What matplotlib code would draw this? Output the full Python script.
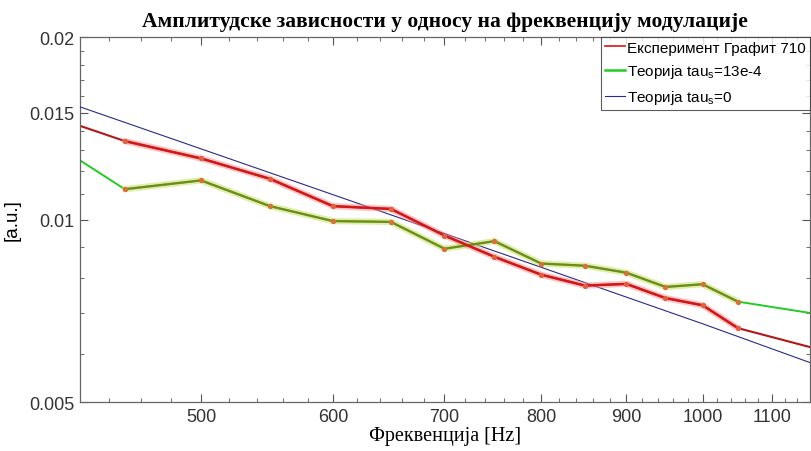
import matplotlib
matplotlib.use("Agg")
import matplotlib.pyplot as plt
from matplotlib.ticker import FixedLocator, NullFormatter
from matplotlib.lines import Line2D

# Frequencies (Hz)
freq = [400, 450, 500, 550, 600, 650, 700, 750, 800, 850, 900, 950, 1000, 1050, 1200]
# Experiment: Graphite 710
exp_vals = [0.01504, 0.01347, 0.01261, 0.01167, 0.01052, 0.01041, 0.00941, 0.00868,
            0.00811, 0.00778, 0.00783, 0.00742, 0.00722, 0.00662, 0.00601]
# Theory tau_s = 13e-4
th13_vals = [0.01382, 0.01122, 0.01160, 0.01052, 0.00994, 0.00991, 0.00895, 0.00921,
             0.00846, 0.00839, 0.00817, 0.00774, 0.00782, 0.00732, 0.00691]
# Theory tau_s = 0 (straight line in log-log)
freq0 = [400, 600, 800, 1000, 1200]
th0_vals = [0.01618, 0.01099, 0.00834, 0.00673, 0.005615]

# highlighted (marked) range of measurement points
hl_start, hl_end = 1, 13

xticks = [500, 600, 700, 800, 900, 1000, 1100]
yticks = [0.005, 0.01, 0.015, 0.02]
ytick_labels = ["0.005", "0.01", "0.015", "0.02"]

fig = plt.figure(figsize=(8.12, 4.52), dpi=100)
ax = fig.add_axes([80/812, 1-403/452, 730/812, (403-38)/452])

red = "#e01010"
green = "#22cc22"
navy = "#2a2a8a"

# theory tau_s=0
ax.plot(freq0, th0_vals, color=navy, lw=0.8, zorder=3)

# green theory: thin full line, then highlighted segment with glow
ax.plot(freq, th13_vals, color=green, lw=1.4, zorder=2)
hx = freq[hl_start:hl_end+1]
hg = th13_vals[hl_start:hl_end+1]
hr = exp_vals[hl_start:hl_end+1]
ax.plot(hx, hg, color="#c4e060", lw=4.5, alpha=0.55, solid_capstyle="round", zorder=4)
ax.plot(hx, hg, color="#6f8a1c", lw=1.6, zorder=5)
ax.plot(hx, hg, ls="none", marker="o", ms=2.8, color="#d8703a", zorder=6)

# red experiment
ax.plot(freq, exp_vals, color="#b01818", lw=1.5, zorder=2)
ax.plot(hx, hr, color="#ff8a8a", lw=4.5, alpha=0.5, solid_capstyle="round", zorder=4)
ax.plot(hx, hr, color="#d01818", lw=1.8, zorder=5)
ax.plot(hx, hr, ls="none", marker="o", ms=2.8, color="#e06040", zorder=6)

ax.set_xscale("log")
ax.set_yscale("log")
ax.set_xlim(423, 1160)
ax.set_ylim(0.005, 0.02)

ax.xaxis.set_major_locator(FixedLocator(xticks))
ax.set_xticklabels([str(t) for t in xticks])
ax.xaxis.set_minor_locator(FixedLocator([f for f in range(420, 1161, 20) if f % 100 != 0]))
ax.xaxis.set_minor_formatter(NullFormatter())

ax.yaxis.set_major_locator(FixedLocator(yticks))
ax.set_yticklabels(ytick_labels)
yminor = [0.006, 0.007, 0.008, 0.009, 0.011, 0.012, 0.013, 0.014,
          0.016, 0.017, 0.018, 0.019]
ax.yaxis.set_minor_locator(FixedLocator(yminor))
ax.yaxis.set_minor_formatter(NullFormatter())

ax.tick_params(which="both", direction="in", top=True, right=True,
               colors="#555555", labelcolor="#333333")
ax.tick_params(which="major", length=6, labelsize=13, pad=4)
ax.tick_params(which="minor", length=3)
for lab in ax.get_xticklabels() + ax.get_yticklabels():
    lab.set_family("Liberation Sans")
for sp in ax.spines.values():
    sp.set_color("#666666")
    sp.set_linewidth(0.9)

ax.set_title("Амплитудске зависности у односу на фреквенцију модулације",
             family="Liberation Serif", fontweight="bold", fontsize=15.5, pad=8)
ax.set_xlabel("Фреквенција [Hz]", family="Liberation Serif", fontsize=14.5, labelpad=1)
ax.set_ylabel("[a.u.]", family="Liberation Sans", fontsize=13.5, labelpad=6)

handles = [Line2D([], [], color=red, lw=1.2),
           Line2D([], [], color=green, lw=1.8),
           Line2D([], [], color=navy, lw=0.8)]
labels = ["Експеримент Графит 710", "Теорија tau$_\\mathregular{s}$=13e-4",
          "Теорија tau$_\\mathregular{s}$=0"]
leg = ax.legend(handles, labels, loc="upper right", bbox_to_anchor=(1.0, 1.0),
                prop={"family": "Liberation Sans", "size": 11},
                frameon=True, fancybox=False, edgecolor="#333333",
                borderaxespad=0.0, handlelength=1.3, handletextpad=0.15,
                borderpad=0.25, labelspacing=0.5)
leg.get_frame().set_linewidth(0.8)

fig.savefig("out.png", dpi=100)
